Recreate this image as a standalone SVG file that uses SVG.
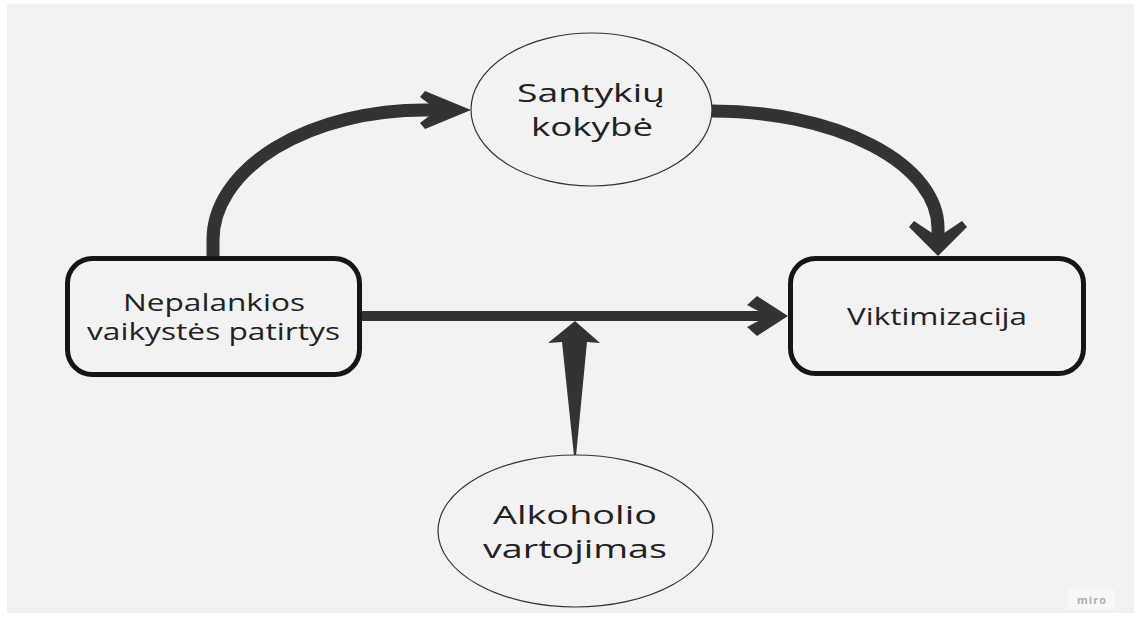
<svg xmlns="http://www.w3.org/2000/svg" width="1139" height="617" viewBox="0 0 1139 617">
<style>
.bg{fill:#f2f2f2}
.box{fill:#f2f2f2;stroke:#151515;stroke-width:5}
.ell{fill:#f2f2f2;stroke:#333;stroke-width:1.2}
.lbl{font-family:"Open Sans","Noto Sans","DejaVu Sans",sans-serif;fill:#222;text-anchor:middle}
.conn{fill:none;stroke:#333;stroke-linejoin:miter;stroke-miterlimit:10}
.head{fill:#333}
</style>
<rect width="1139" height="617" fill="#ffffff"/>
<rect class="bg" x="7" y="4" width="1127" height="609"/>
<g id="connectors">
  <path class="conn" d="M213,258 L213,240 A212,130 0 0 1 425,110 L440,110" stroke-width="13"/>
  <polygon class="head" points="471,110 425,91 420,97 437,110 420,123 425,129"/>
  <path class="conn" d="M712,111 A226,117 0 0 1 938,228 L938,240" stroke-width="13"/>
  <polygon class="head" points="938,256 909,227 914,221 938,237 962,221 967,227"/>
  <line class="conn" x1="362" y1="316" x2="775" y2="316" stroke-width="10"/>
  <polygon class="head" points="788,316 757,296 747,305 768,316 747,327 757,336"/>
  <polygon class="head" points="575,321 600,343 587,342 576,456 574,456 562,342 548,343"/>
</g>
<g id="node-nepalankios">
  <rect class="box" x="67.5" y="258.5" width="292" height="116" rx="25"/>
  <text class="lbl" x="214" y="311" font-size="23" textLength="182" lengthAdjust="spacingAndGlyphs">Nepalankios</text>
  <text class="lbl" x="213.5" y="340" font-size="23" textLength="253" lengthAdjust="spacingAndGlyphs">vaikystės patirtys</text>
</g>
<g id="node-viktimizacija">
  <rect class="box" x="790.5" y="258.5" width="293" height="115" rx="25"/>
  <text class="lbl" x="937" y="325" font-size="24" textLength="180" lengthAdjust="spacingAndGlyphs">Viktimizacija</text>
</g>
<g id="node-santykiu">
  <ellipse class="ell" cx="591.5" cy="109.5" rx="120.5" ry="76.5"/>
  <text class="lbl" x="591" y="102" font-size="26" textLength="148" lengthAdjust="spacingAndGlyphs">Santykių</text>
  <text class="lbl" x="592" y="136" font-size="26" textLength="122" lengthAdjust="spacingAndGlyphs">kokybė</text>
</g>
<g id="node-alkoholio">
  <ellipse class="ell" cx="575.5" cy="531" rx="137.5" ry="76"/>
  <text class="lbl" x="575" y="524" font-size="26" textLength="164" lengthAdjust="spacingAndGlyphs">Alkoholio</text>
  <text class="lbl" x="575" y="558" font-size="26" textLength="184" lengthAdjust="spacingAndGlyphs">vartojimas</text>
</g>
<g id="watermark">
  <rect x="1068" y="589" width="47" height="21" rx="3" fill="#f7f7f7"/>
  <text x="1092" y="604" font-family="'Open Sans','Liberation Sans',sans-serif" font-size="11" font-weight="bold" fill="#b0b0b0" text-anchor="middle" letter-spacing="1">miro</text>
</g>
</svg>
